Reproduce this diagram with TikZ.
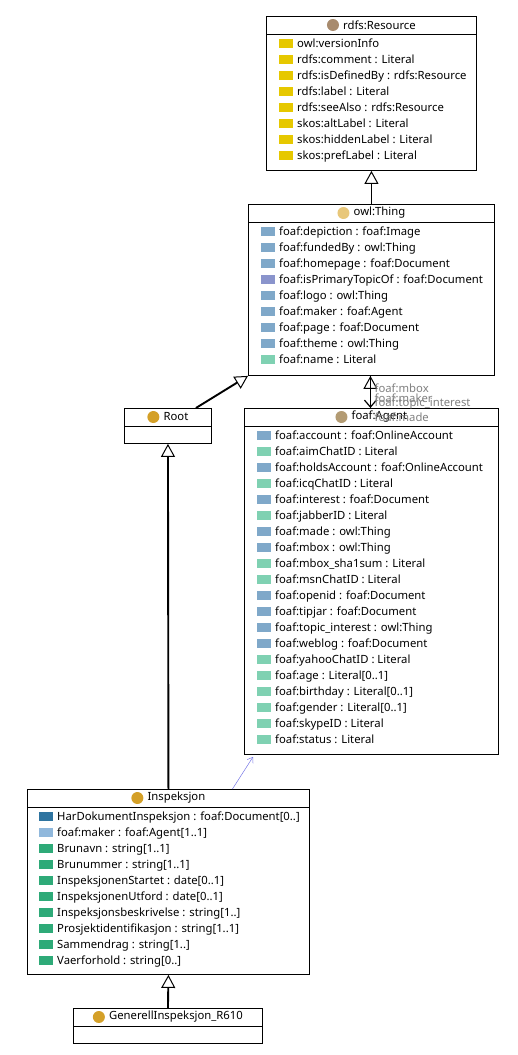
\documentclass[tikz,border=0pt]{standalone}
\usepackage{fontspec}
\setmainfont{Noto Sans}
\usepackage{tikz}
\usetikzlibrary{arrows.meta,positioning,calc}

\definecolor{ciRes}{RGB}{168,139,110}
\definecolor{ciThing}{RGB}{232,199,122}
\definecolor{ciGold}{RGB}{212,160,40}
\definecolor{ciAgent}{RGB}{179,155,115}
\definecolor{sqYel}{RGB}{230,200,0}
\definecolor{sqObj}{RGB}{127,168,201}
\definecolor{sqPur}{RGB}{138,148,204}
\definecolor{sqLit}{RGB}{127,209,178}
\definecolor{sqDark}{RGB}{46,116,160}
\definecolor{sqLight}{RGB}{144,184,220}
\definecolor{sqGrn}{RGB}{46,170,120}
\definecolor{lblGray}{RGB}{128,128,128}
\definecolor{assoc}{RGB}{120,120,230}

\begin{document}
\begin{tikzpicture}[x=1pt, y=-1pt, font=\fontsize{11.3}{13}\selectfont]
\tikzstyle{cls}=[draw=black, line width=0.9pt, rectangle, anchor=north west, inner sep=0pt]
\tikzstyle{ttl}=[inner sep=0pt, anchor=center]
\tikzstyle{attr}=[inner sep=0pt, anchor=base west]
\tikzstyle{gen}=[line width=1.9pt, -{Triangle[open, length=13pt, width=14pt, line width=1pt]}]
\tikzstyle{lbl}=[inner sep=0pt, anchor=west, text=lblGray]
\useasboundingbox (0,0) rectangle (518,1055);

% rdfs:Resource
\node[cls, minimum width=210pt, minimum height=154pt] (res) at (266,16) {};
\draw[line width=0.9pt] ($(res.north west)+(0,18)$) -- ($(res.north east)+(0,18)$);
\node[ttl] (rest) at ($(res.north)+(8,9)$) {rdfs:Resource};
\fill[ciRes] ($(rest.west)+(-10,0)$) circle (6);
\foreach \c/\t [count=\i from 0] in {sqYel/owl:versionInfo, sqYel/rdfs:comment : Literal,
    sqYel/rdfs:isDefinedBy : rdfs:Resource, sqYel/rdfs:label : Literal,
    sqYel/rdfs:seeAlso : rdfs:Resource, sqYel/skos:altLabel : Literal,
    sqYel/skos:hiddenLabel : Literal, sqYel/skos:prefLabel : Literal}
{
  \fill[\c] ($(res.north west)+(13,{22.5+16*\i})$) rectangle +(14,9);
  \node[attr] at ($(res.north west)+(31,{31+16*\i})$) {\t};
}

% owl:Thing
\node[cls, minimum width=246pt, minimum height=171pt] (thing) at (248,204) {};
\draw[line width=0.9pt] ($(thing.north west)+(0,18)$) -- ($(thing.north east)+(0,18)$);
\node[ttl] (thingt) at ($(thing.north)+(8,9)$) {owl:Thing};
\fill[ciThing] ($(thingt.west)+(-10,0)$) circle (6);
\foreach \c/\t [count=\i from 0] in {sqObj/foaf:depiction : foaf:Image, sqObj/foaf:fundedBy : owl:Thing,
    sqObj/foaf:homepage : foaf:Document, sqPur/foaf:isPrimaryTopicOf : foaf:Document,
    sqObj/foaf:logo : owl:Thing, sqObj/foaf:maker : foaf:Agent,
    sqObj/foaf:page : foaf:Document, sqObj/foaf:theme : owl:Thing, sqLit/foaf:name : Literal}
{
  \fill[\c] ($(thing.north west)+(13,{22.5+16*\i})$) rectangle +(14,9);
  \node[attr] at ($(thing.north west)+(31,{31+16*\i})$) {\t};
}

% Root
\node[cls, minimum width=87pt, minimum height=35pt] (root) at (124,408) {};
\draw[line width=0.9pt] ($(root.north west)+(0,18)$) -- ($(root.north east)+(0,18)$);
\node[ttl] (roott) at ($(root.north)+(8,9)$) {Root};
\fill[ciGold] ($(roott.west)+(-10,0)$) circle (6);

% foaf:Agent
\node[cls, minimum width=254pt, minimum height=346pt] (agent) at (244,408) {};
\draw[line width=0.9pt] ($(agent.north west)+(0,18)$) -- ($(agent.north east)+(0,18)$);
\node[ttl] (agentt) at ($(agent.north)+(8,9)$) {foaf:Agent};
\fill[ciAgent] ($(agentt.west)+(-10,0)$) circle (6);
\foreach \c/\t [count=\i from 0] in {sqObj/foaf:account : foaf:OnlineAccount, sqLit/foaf:aimChatID : Literal,
    sqObj/foaf:holdsAccount : foaf:OnlineAccount, sqLit/foaf:icqChatID : Literal,
    sqObj/foaf:interest : foaf:Document, sqLit/foaf:jabberID : Literal,
    sqObj/foaf:made : owl:Thing, sqObj/foaf:mbox : owl:Thing,
    sqLit/foaf:mbox\_sha1sum : Literal, sqLit/foaf:msnChatID : Literal,
    sqObj/foaf:openid : foaf:Document, sqObj/foaf:tipjar : foaf:Document,
    sqObj/foaf:topic\_interest : owl:Thing, sqObj/foaf:weblog : foaf:Document,
    sqLit/foaf:yahooChatID : Literal, sqLit/foaf:age : Literal[0..1],
    sqLit/foaf:birthday : Literal[0..1], sqLit/foaf:gender : Literal[0..1],
    sqLit/foaf:skypeID : Literal, sqLit/foaf:status : Literal}
{
  \fill[\c] ($(agent.north west)+(13,{22.5+16*\i})$) rectangle +(14,9);
  \node[attr] at ($(agent.north west)+(31,{31+16*\i})$) {\t};
}

% Inspeksjon
\node[cls, minimum width=282pt, minimum height=185pt] (insp) at (27,789) {};
\draw[line width=0.9pt] ($(insp.north west)+(0,18)$) -- ($(insp.north east)+(0,18)$);
\node[ttl] (inspt) at ($(insp.north)+(8,9)$) {Inspeksjon};
\fill[ciGold] ($(inspt.west)+(-10,0)$) circle (6);
\foreach \c/\t [count=\i from 0] in {sqDark/HarDokumentInspeksjon : foaf:Document[0..],
    sqLight/foaf:maker : foaf:Agent[1..1], sqGrn/Brunavn : string[1..1],
    sqGrn/Brunummer : string[1..1], sqGrn/InspeksjonenStartet : date[0..1],
    sqGrn/InspeksjonenUtford : date[0..1], sqGrn/Inspeksjonsbeskrivelse : string[1..],
    sqGrn/Prosjektidentifikasjon : string[1..1], sqGrn/Sammendrag : string[1..],
    sqGrn/Vaerforhold : string[0..]}
{
  \fill[\c] ($(insp.north west)+(12,{22.5+16*\i})$) rectangle +(14,9);
  \node[attr] at ($(insp.north west)+(30,{31+16*\i})$) {\t};
}

% GenerellInspeksjon_R610
\node[cls, minimum width=189pt, minimum height=35pt] (gen) at (73,1008) {};
\draw[line width=0.9pt] ($(gen.north west)+(0,18)$) -- ($(gen.north east)+(0,18)$);
\node[ttl] (gent) at ($(gen.north)+(8,9)$) {GenerellInspeksjon\_R610};
\fill[ciGold] ($(gent.west)+(-10,0)$) circle (6);

% connectors
\draw[gen] (thing.north) -- (res.south);
\draw[gen] ($(root.north)+(28,0)$) -- (thing.south west);
\draw[gen] ($(agent.north)+(-1,0)$) -- ($(thing.south)+(-1,0)$);
\draw[line width=1.2pt, -{Straight Barb[length=7pt, width=12pt]}] ($(thing.south)+(-1,0)$) -- ($(agent.north)+(-1,0)$);
\draw[gen] (insp.north) -- (root.south);
\draw[gen] (gen.north) -- (insp.south);
\draw[assoc, line width=0.5pt, -{Straight Barb[length=5pt, width=7pt]}] ($(insp.north)+(64,0)$) -- ($(agent.south west)+(9,2)$);

% association labels
\node[lbl] (l1) at ($(thing.south)+(3,12)$) {foaf:mbox};
\node[lbl] (l2) at ($(thing.south)+(3,22)$) {foaf:maker};
\node[lbl] (l3) at ($(thing.south)+(3,28)$) {foaf:topic\_interest};
\node[lbl] (l4) at ($(thing.south)+(3,41)$) {foaf:made};
\end{tikzpicture}
\end{document}
